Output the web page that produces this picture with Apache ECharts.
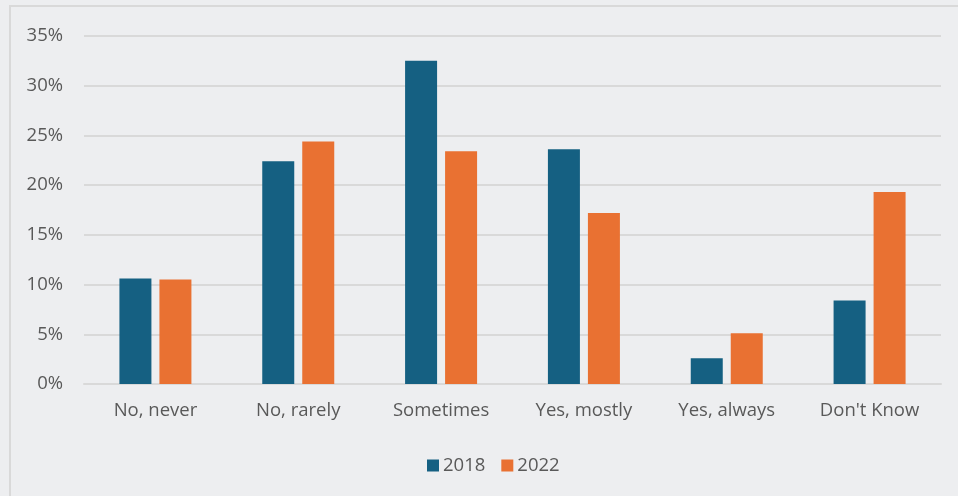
<!DOCTYPE html>
<html>
<head>
<meta charset="utf-8">
<script src="https://cdn.jsdelivr.net/npm/echarts@6/dist/echarts.min.js"></script>
<style>
html,body{margin:0;padding:0;background:#EDEEF0;}
#c{width:958px;height:496px;}
</style>
</head>
<body>
<div id="c"></div>
<script>
const categories = ["No, never", "No, rarely", "Sometimes", "Yes, mostly", "Yes, always", "Don't Know"];
const values2018 = [10.6, 22.4, 32.5, 23.6, 2.6, 8.4];
const values2022 = [10.5, 24.4, 23.4, 17.2, 5.1, 19.3];
const seriesNames = ["2018", "2022"];

const chart = echarts.init(document.getElementById('c'), null, {renderer: 'canvas'});
const font = "'Open Sans', 'Noto Sans', sans-serif";
chart.setOption({
  backgroundColor: '#EDEEF0',
  animation: false,
  textStyle: {fontFamily: font},
  graphic: [{
    type: 'rect', silent: true,
    shape: {x: 10, y: 6, width: 980, height: 520},
    style: {fill: 'none', stroke: '#D9D9D9', lineWidth: 2}
  }],
  grid: {left: 84, right: 17, top: 36, bottom: 112, containLabel: false},
  legend: {
    top: 451, left: 422,
    itemWidth: 12, itemHeight: 12, itemGap: 16,
    icon: 'rect',
    textStyle: {color: '#595959', fontSize: 18.5, fontFamily: font, padding: [0, 0, 0, -1]},
    data: seriesNames
  },
  xAxis: {
    type: 'category', data: categories,
    axisLine: {lineStyle: {color: '#D9D9D9', width: 2}},
    axisTick: {show: false},
    axisLabel: {color: '#595959', fontSize: 18.5, margin: 17, fontFamily: font}
  },
  yAxis: {
    type: 'value', min: 0, max: 35, interval: 5,
    axisLine: {show: false}, axisTick: {show: false},
    axisLabel: {formatter: '{value}%', color: '#595959', fontSize: 18.5, margin: 21, fontFamily: font},
    splitLine: {lineStyle: {color: '#D9D9D9', width: 2}}
  },
  series: [
    {name: seriesNames[0], type: 'bar', data: values2018, barWidth: 32, barGap: '25%', itemStyle: {color: '#156082'}},
    {name: seriesNames[1], type: 'bar', data: values2022, barWidth: 32, itemStyle: {color: '#E97132'}}
  ]
});
</script>
</body>
</html>
